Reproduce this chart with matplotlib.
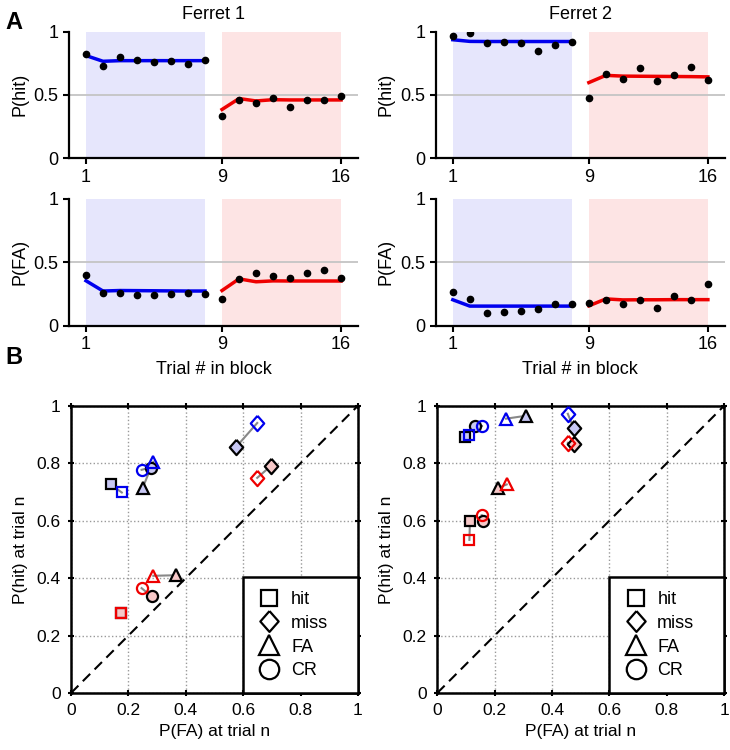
import numpy as np
import matplotlib
matplotlib.use('Agg')
from matplotlib import pyplot as plt
from matplotlib.lines import Line2D
from matplotlib.patches import Rectangle

plt.rcParams['font.family'] = ['Liberation Sans', 'DejaVu Sans']

trials = np.arange(1, 17)

# top panels: dots = observed, fit = model line
f1_hit_dots = [0.82, 0.725, 0.80, 0.777, 0.757, 0.767, 0.74, 0.772,
               0.33, 0.458, 0.437, 0.479, 0.406, 0.458, 0.46, 0.492]
f1_hit_fit = [0.81, 0.765, 0.77, 0.77, 0.77, 0.77, 0.77, 0.77,
              0.385, 0.471, 0.452, 0.462, 0.46, 0.46, 0.46, 0.46]
f1_fa_dots = [0.397, 0.26, 0.255, 0.24, 0.242, 0.245, 0.255, 0.245,
              0.21, 0.37, 0.413, 0.387, 0.376, 0.418, 0.44, 0.376]
f1_fa_fit = [0.353, 0.272, 0.276, 0.275, 0.274, 0.273, 0.272, 0.272,
             0.276, 0.368, 0.345, 0.352, 0.351, 0.351, 0.351, 0.351]
f2_hit_dots = [0.966, 0.99, 0.908, 0.919, 0.908, 0.848, 0.895, 0.92,
               0.476, 0.662, 0.628, 0.715, 0.607, 0.657, 0.717, 0.615]
f2_hit_fit = [0.935, 0.922, 0.921, 0.921, 0.921, 0.921, 0.921, 0.921,
              0.597, 0.654, 0.648, 0.647, 0.646, 0.645, 0.644, 0.642]
f2_fa_dots = [0.263, 0.213, 0.097, 0.11, 0.116, 0.13, 0.168, 0.166,
              0.18, 0.2, 0.17, 0.2, 0.137, 0.234, 0.2, 0.326]
f2_fa_fit = [0.203, 0.153, 0.153, 0.153, 0.153, 0.153, 0.153, 0.153,
             0.155, 0.21, 0.202, 0.203, 0.203, 0.204, 0.204, 0.204]

# bottom panels: previous-trial outcome, (FA, hit) pairs: model (black edge, filled) vs data (coloured, open)
outcomes = ['hit', 'miss', 'FA', 'CR']

f1_blue_model_x = [0.138, 0.575, 0.25, 0.278]
f1_blue_model_y = [0.726, 0.856, 0.715, 0.785]
f1_blue_data_x = [0.177, 0.649, 0.287, 0.246]
f1_blue_data_y = [0.698, 0.94, 0.805, 0.777]
f1_red_model_x = [0.175, 0.696, 0.366, 0.281]
f1_red_model_y = [0.28, 0.79, 0.41, 0.336]
f1_red_data_x = [0.175, 0.649, 0.287, 0.246]
f1_red_data_y = [0.28, 0.749, 0.408, 0.365]

f2_blue_model_x = [0.095, 0.475, 0.308, 0.131]
f2_blue_model_y = [0.89, 0.923, 0.965, 0.93]
f2_blue_data_x = [0.112, 0.455, 0.24, 0.155]
f2_blue_data_y = [0.898, 0.972, 0.955, 0.93]
f2_red_model_x = [0.114, 0.477, 0.213, 0.16]
f2_red_model_y = [0.60, 0.868, 0.714, 0.60]
f2_red_data_x = [0.112, 0.455, 0.242, 0.155]
f2_red_data_y = [0.533, 0.871, 0.726, 0.619]

diamond = [(0, 1), (0.88, 0), (0, -1), (-0.88, 0), (0, 1)]
markers = ['s', diamond, '^', 'o']
marker_ms = [7.5, 11, 9, 8]
legend_ms = [11, 15, 15, 14]

blue = '#0000ee'
red = '#ee0000'
blue_fill = '#c8c8f4'
red_fill = '#f6c8c8'
blue_bg = '#e6e6fc'
red_bg = '#fde4e4'

fig = plt.figure(figsize=(7.3, 7.5), dpi=100)

def top_panel(rect, dots, fit, ylabel, title=None, xlabel=None):
    ax = fig.add_axes(rect)
    ax.add_patch(Rectangle((1, 0), 7, 1, facecolor=blue_bg, edgecolor='none', zorder=0.5))
    ax.add_patch(Rectangle((9, 0), 7, 1, facecolor=red_bg, edgecolor='none', zorder=0.5))
    ax.plot([0, 17], [0.5, 0.5], color='#c4c4c4', lw=1.3, zorder=0.7)
    ax.plot(trials[:8], fit[:8], color=blue, lw=2.5, zorder=2)
    ax.plot(trials[8:], fit[8:], color=red, lw=2.5, zorder=2)
    ax.plot(trials, dots, 'o', color='black', ms=4.5, zorder=3)
    ax.set_xlim(0, 17)
    ax.set_ylim(0, 1)
    ax.set_xticks([1, 9, 16])
    ax.set_yticks([0, 0.5, 1])
    ax.set_yticklabels(['0', '0.5', '1'])
    for s in ['top', 'right']:
        ax.spines[s].set_visible(False)
    for s in ['left', 'bottom']:
        ax.spines[s].set_linewidth(1.6)
    ax.tick_params(direction='out', length=4, width=1.5, labelsize=13)
    ax.set_ylabel(ylabel, fontsize=13, labelpad=4)
    if title:
        ax.set_title(title, fontsize=13, pad=9)
    if xlabel:
        ax.set_xlabel(xlabel, fontsize=13, labelpad=6)
    return ax

top_panel([0.0945, 0.789, 0.396, 0.169], f1_hit_dots, f1_hit_fit, 'P(hit)', title='Ferret 1')
top_panel([0.0945, 0.566, 0.396, 0.169], f1_fa_dots, f1_fa_fit, 'P(FA)', xlabel='Trial # in block')
top_panel([0.597, 0.789, 0.396, 0.169], f2_hit_dots, f2_hit_fit, 'P(hit)', title='Ferret 2')
top_panel([0.597, 0.566, 0.396, 0.169], f2_fa_dots, f2_fa_fit, 'P(FA)', xlabel='Trial # in block')

def scatter_panel(rect, groups):
    ax = fig.add_axes(rect)
    ax.plot([0, 1], [0, 1], '--', color='black', lw=1.5, dashes=(5, 3), zorder=1)
    for mx, my, dx, dy, col, fill in groups:
        for i, m in enumerate(markers):
            ms = marker_ms[i]
            ax.plot([mx[i], dx[i]], [my[i], dy[i]], color='#888888', lw=1.5, zorder=2)
            ax.plot(mx[i], my[i], marker=m, ms=ms, mfc=fill, mec='black', mew=1.6, zorder=3)
            ax.plot(dx[i], dy[i], marker=m, ms=ms, mfc='none', mec=col, mew=1.6, zorder=4)
    ax.set_xlim(0, 1)
    ax.set_ylim(0, 1)
    ticks = [0, 0.2, 0.4, 0.6, 0.8, 1]
    ax.set_xticks(ticks)
    ax.set_yticks(ticks)
    ax.set_xticklabels(['0', '0.2', '0.4', '0.6', '0.8', '1'])
    ax.set_yticklabels(['0', '0.2', '0.4', '0.6', '0.8', '1'])
    ax.grid(True, linestyle=':', color='#999999', lw=1.0)
    ax.set_axisbelow(True)
    for s in ax.spines.values():
        s.set_linewidth(1.8)
    ax.tick_params(direction='inout', length=5, width=1.5, labelsize=12.5,
                   top=True, right=True, pad=5)
    ax.set_xlabel('P(FA) at trial n', fontsize=12.5, labelpad=4)
    ax.set_ylabel('P(hit) at trial n', fontsize=12.5, labelpad=6)
    handles = [Line2D([], [], marker=m, ls='none', ms=legend_ms[i], mfc='white', mec='black', mew=1.6)
               for i, m in enumerate(markers)]
    leg = ax.legend(handles, outcomes, loc='lower left', bbox_to_anchor=(0.6, 0, 0.4, 0.4),
                    mode='expand', borderaxespad=0, fancybox=False, fontsize=13,
                    labelspacing=0.38, handlelength=1.4, handletextpad=0.5,
                    borderpad=0.75, framealpha=1)
    leg.get_frame().set_edgecolor('black')
    leg.get_frame().set_linewidth(1.8)
    leg.set_zorder(10)
    return ax

scatter_panel([0.0973, 0.076, 0.393, 0.383],
              [(f1_blue_model_x, f1_blue_model_y, f1_blue_data_x, f1_blue_data_y, blue, blue_fill),
               (f1_red_model_x, f1_red_model_y, f1_red_data_x, f1_red_data_y, red, red_fill)])
scatter_panel([0.599, 0.076, 0.393, 0.383],
              [(f2_blue_model_x, f2_blue_model_y, f2_blue_data_x, f2_blue_data_y, blue, blue_fill),
               (f2_red_model_x, f2_red_model_y, f2_red_data_x, f2_red_data_y, red, red_fill)])

fig.text(0.008, 0.985, 'A', fontsize=17, fontweight='bold', va='top')
fig.text(0.008, 0.538, 'B', fontsize=17, fontweight='bold', va='top')

fig.savefig('out.png', dpi=100)
